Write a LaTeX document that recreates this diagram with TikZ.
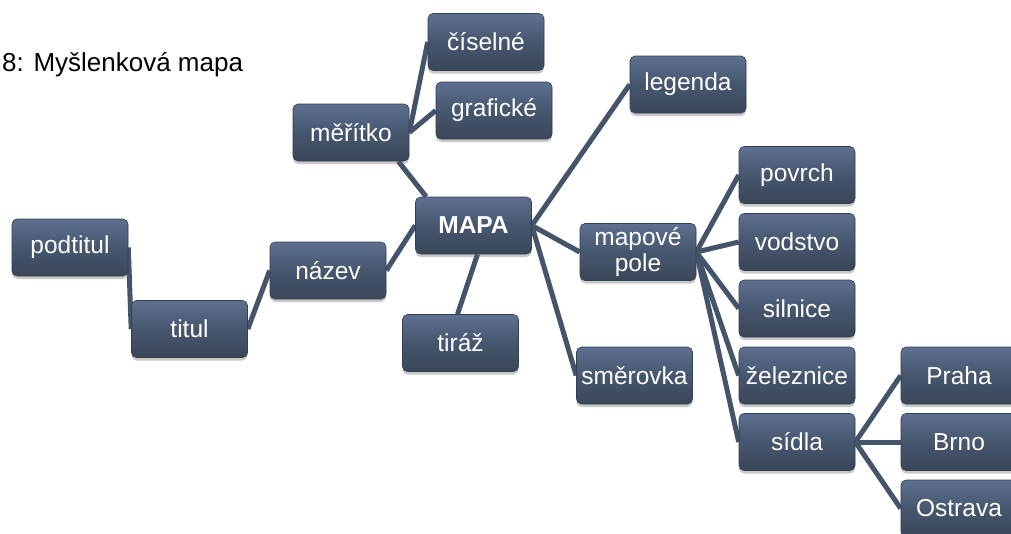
\documentclass[tikz,border=0pt]{standalone}
\usepackage{fontspec}
\setmainfont{Liberation Sans}
\usetikzlibrary{shadows,backgrounds}
\definecolor{boxtop}{HTML}{5E7090}
\definecolor{boxmid}{HTML}{46566E}
\definecolor{boxbot}{HTML}{3A4759}
\definecolor{boxedge}{HTML}{34404F}
\definecolor{linkcol}{HTML}{44546A}
\tikzset{
  mm/.style={rectangle, rounded corners=5pt, minimum width=116pt, minimum height=57pt,
    inner sep=2pt, top color=boxtop, bottom color=boxbot, middle color=boxmid,
    draw=boxedge, line width=0.6pt, text=white,
    font=\fontsize{24.5}{25}\selectfont, align=center,
    drop shadow={shadow xshift=0pt, shadow yshift=-3pt, opacity=0.35, fill=black!60}},
  link/.style={draw=linkcol, line width=5pt},
  titletext/.style={font=\fontsize{26}{30}\selectfont, inner sep=0pt, anchor=base west}
}
\begin{document}
\begin{tikzpicture}[x=1pt,y=-1pt]
\useasboundingbox (0,0) rectangle (1011,533);
\clip (0,0) rectangle (1011,533);
\node[titletext] (title) at (2,71) {8: Myšlenková mapa};
\node[mm] (cislne)   at (486,42)    {číselné};
\node[mm] (graficke) at (494,110.5) {grafické};
\node[mm] (meritko)  at (351,132.5) {měřítko};
\node[mm] (legenda)  at (688,84.5)  {legenda};
\node[mm, font=\fontsize{24.5}{25}\selectfont\bfseries] (mapa) at (473.5,225.5) {MAPA};
\node[mm, font=\fontsize{24.5}{26}\selectfont] (mapove) at (638,252) {mapové\\pole};
\node[mm] (tiraz)    at (460.5,343) {tiráž};
\node[mm] (smerovka) at (634.5,375.5) {směrovka};
\node[mm] (povrch)   at (797,175)   {povrch};
\node[mm] (vodstvo)  at (797,242)   {vodstvo};
\node[mm] (silnice)  at (797,308.5) {silnice};
\node[mm] (zeleznice) at (797,375.5) {železnice};
\node[mm] (sidla)    at (797,442)   {sídla};
\node[mm] (praha)    at (959,375.5) {Praha};
\node[mm] (brno)     at (959,442)   {Brno};
\node[mm] (ostrava)  at (959,508.5) {Ostrava};
\node[mm] (podtitul) at (70,247.5)  {podtitul};
\node[mm] (titul)    at (189.5,329) {titul};
\node[mm] (nazev)    at (328,270.5) {název};
\begin{pgfonlayer}{background}
\fill[white] (0,0) rectangle (1011,533);
\draw[link] (meritko.east) -- (cislne.west);
\draw[link] (meritko.east) -- (graficke.west);
\draw[link] ([xshift=-11pt]meritko.south east) -- ([xshift=11pt]mapa.north west);
\draw[link] (mapa.east) -- (legenda.west);
\draw[link] (mapa.east) -- (mapove.west);
\draw[link] (mapa.east) -- (smerovka.west);
\draw[link] ([xshift=4pt]mapa.south) -- ([xshift=-3pt]tiraz.north);
\draw[link] (mapa.west) -- (nazev.east);
\draw[link] (nazev.west) -- (titul.east);
\draw[link] (titul.west) -- (podtitul.east);
\draw[link] (mapove.east) -- (povrch.west);
\draw[link] (mapove.east) -- (vodstvo.west);
\draw[link] (mapove.east) -- (silnice.west);
\draw[link] (mapove.east) -- (zeleznice.west);
\draw[link] (mapove.east) -- (sidla.west);
\draw[link] (sidla.east) -- (praha.west);
\draw[link] (sidla.east) -- (brno.west);
\draw[link] (sidla.east) -- (ostrava.west);
\end{pgfonlayer}
\end{tikzpicture}
\end{document}
